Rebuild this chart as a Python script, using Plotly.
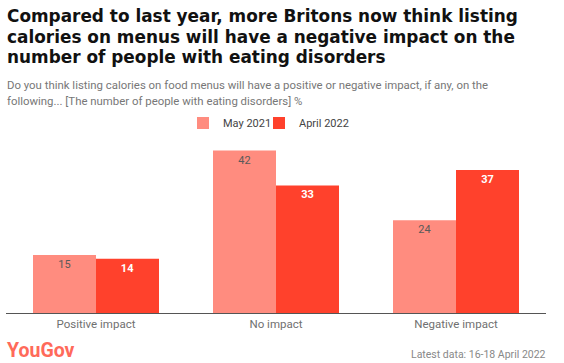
import plotly.graph_objects as go

categories = ["Positive impact", "No impact", "Negative impact"]
may_2021 = [15, 42, 24]
april_2022 = [14, 33, 37]
series_names = ["May 2021", "April 2022"]

title_lines = ["Compared to last year, more Britons now think listing",
               "calories on menus will have a negative impact on the",
               "number of people with eating disorders"]
subtitle_lines = ["Do you think listing calories on food menus will have a positive or negative impact, if any, on the",
                  "following... [The number of people with eating disorders] %"]
source_text = "Latest data: 16-18 April 2022"
brand_text = "YouGov"

W, H = 564, 363
M_L, M_R, M_T, M_B = 6, 18, 139, 50
PLOT_W = W - M_L - M_R
PLOT_H = H - M_T - M_B


def py(ypx):
    """pixel y from top -> paper y"""
    return (H - M_B - ypx) / PLOT_H


def px(xpx):
    """pixel x from left -> paper x"""
    return (xpx - M_L) / PLOT_W


fig = go.Figure()
fig.add_trace(go.Bar(
    x=categories, y=may_2021, name=series_names[0], legend="legend",
    marker=dict(color="#FF8C7F", line=dict(width=0)),
    text=may_2021, textposition="inside", insidetextanchor="end",
    textfont=dict(color="#5a5a5a", size=11, family="Roboto"),
    textangle=0,
))
fig.add_trace(go.Bar(
    x=categories, y=april_2022, name=series_names[1], legend="legend2",
    marker=dict(color="#FF412C", line=dict(width=0)),
    text=[f"<b>{v}</b>" for v in april_2022], textposition="inside", insidetextanchor="end",
    textfont=dict(color="white", size=11, family="Roboto"),
    textangle=0,
))

legend_common = dict(orientation="h", xanchor="left",
                     y=(H - 123) / H, yanchor="middle", yref="container",
                     font=dict(size=11, color="#444444", family="Roboto"),
                     itemwidth=30, bgcolor="rgba(0,0,0,0)")

fig.update_layout(
    width=W, height=H,
    margin=dict(l=M_L, r=M_R, t=M_T, b=M_B, autoexpand=False),
    paper_bgcolor="white", plot_bgcolor="white",
    barmode="group", bargap=0.3, bargroupgap=0,
    showlegend=True,
    legend=dict(x=px(183), **legend_common),
    legend2=dict(x=px(259), **legend_common),
    xaxis=dict(showgrid=False, showline=True, linecolor="#555555", linewidth=1,
               ticks="", ticklabelstandoff=0,
               tickfont=dict(size=11.5, color="#707070", family="Roboto"),
               range=[-0.5, 2.5], fixedrange=True),
    yaxis=dict(visible=False, range=[0, 45], showgrid=False, zeroline=False),
    uniformtext=dict(minsize=8, mode="show"),
)

for i, line in enumerate(title_lines):
    fig.add_annotation(text="<b>" + line + "</b>", xref="paper", yref="paper",
                       x=0, y=py(16.5 + 20 * i), xanchor="left", yanchor="middle",
                       align="left", showarrow=False, xshift=-1,
                       font=dict(size=16.9, color="#111111", family="DejaVu Sans"))
for i, line in enumerate(subtitle_lines):
    fig.add_annotation(text=line, xref="paper", yref="paper",
                       x=0, y=py(85 + 15.5 * i), xanchor="left", yanchor="middle",
                       align="left", showarrow=False, xshift=-1,
                       font=dict(size=11.4, color="#777777", family="Roboto"))
fig.add_annotation(text="<b>" + brand_text + "</b>", xref="paper", yref="paper",
                   x=0, y=py(363), xanchor="left", yanchor="bottom", showarrow=False,
                   borderpad=0,
                   font=dict(size=19.5, color="#FF6A5A", family="Roboto"))
fig.add_annotation(text=source_text, xref="paper", yref="paper",
                   x=1, y=py(354), xanchor="right", yanchor="middle", showarrow=False,
                   xshift=2,
                   font=dict(size=10.5, color="#888888", family="Roboto"))

fig.write_html("out.html", config={"displayModeBar": False},
               post_script="document.body.style.margin='0';")
